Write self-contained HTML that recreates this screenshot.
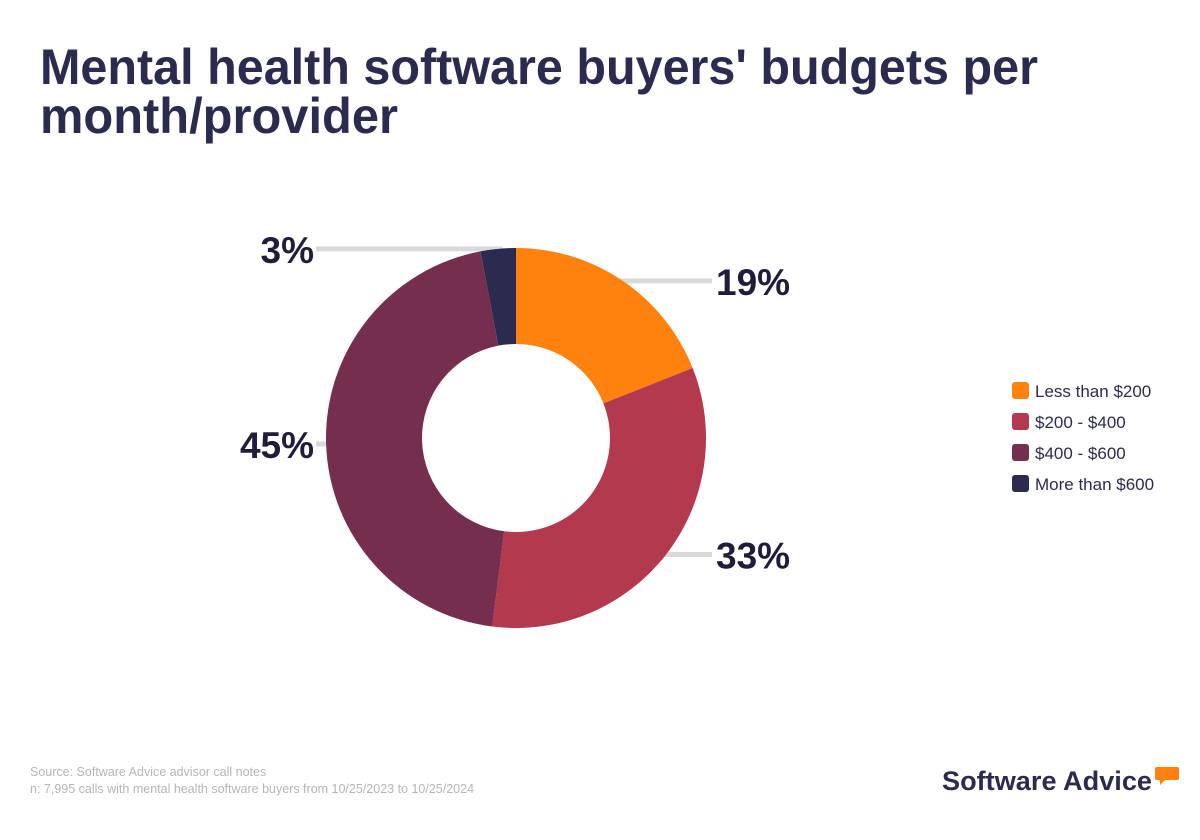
<!DOCTYPE html>
<html><head><meta charset="utf-8"><style>
html,body{margin:0;padding:0;background:#fff;}
svg{display:block;font-family:"Liberation Sans",sans-serif;}
</style></head><body>
<svg id="chart" width="1200" height="840" viewBox="0 0 1200 840">
<text x="40" y="84" font-size="50" font-weight="bold" fill="#2B2A4F" textLength="998" lengthAdjust="spacingAndGlyphs">Mental health software buyers' budgets per</text>
<text x="40" y="133" font-size="50" font-weight="bold" fill="#2B2A4F" textLength="358" lengthAdjust="spacingAndGlyphs">month/provider</text>
<g id="leaders"></g>
<g id="slices"></g>
<g id="labels"></g>
<g id="legend"></g>
<text x="30" y="776" font-size="12.5" fill="#b5b5b5">Source: Software Advice advisor call notes</text>
<text x="30" y="793" font-size="12.5" fill="#b5b5b5">n: 7,995 calls with mental health software buyers from 10/25/2023 to 10/25/2024</text>
<text x="942" y="790" font-size="27" font-weight="bold" fill="#2B2A4F" textLength="210" lengthAdjust="spacingAndGlyphs">Software Advice</text>
<path d="M1157 767 h20 q2 0 2 2 v9 q0 2 -2 2 h-12 l-5 5 v-5 h-3 q-2 0 -2 -2 v-9 q0 -2 2 -2z" fill="#FF820E"/>
</svg>
<script>
const categories = ["Less than $200", "$200 - $400", "$400 - $600", "More than $600"];
const values = [19, 33, 45, 3];
const valueLabels = ["19%", "33%", "45%", "3%"];
const colors = ["#FF820E", "#B3394F", "#762E4E", "#2B2A4F"];
const NS = "http://www.w3.org/2000/svg";
const cx = 516, cy = 438, R = 190, r = 94;
const total = values.reduce((a, b) => a + b, 0);
function pt(rad, a) { return [cx + rad * Math.sin(a), cy - rad * Math.cos(a)]; }
const sl = document.getElementById('slices'), lb = document.getElementById('labels'), ld = document.getElementById('leaders'), lg = document.getElementById('legend');
let acc = 0;
values.forEach((v, i) => {
  const a0 = acc / total * 2 * Math.PI; acc += v;
  const a1 = acc / total * 2 * Math.PI;
  const large = (a1 - a0) > Math.PI ? 1 : 0;
  const [x0, y0] = pt(R, a0), [x1, y1] = pt(R, a1), [x2, y2] = pt(r, a1), [x3, y3] = pt(r, a0);
  const p = document.createElementNS(NS, 'path');
  p.setAttribute('d', `M${x0} ${y0} A${R} ${R} 0 ${large} 1 ${x1} ${y1} L${x2} ${y2} A${r} ${r} 0 ${large} 0 ${x3} ${y3}Z`);
  p.setAttribute('fill', colors[i]);
  
  
  sl.appendChild(p);
  const am = (a0 + a1) / 2;
  const right = Math.sin(am) >= 0;
  const ly = cy - R * Math.cos(am);
  const ex = cx + (R + r) / 2 * Math.sin(am);
  const lx = right ? 712 : 316;
  const ln = document.createElementNS(NS, 'path');
  ln.setAttribute('d', `M${ex} ${ly} L${lx} ${ly}`);
  ln.setAttribute('stroke', '#d9d9d9');
  ln.setAttribute('stroke-width', '5');
  
  
  ld.appendChild(ln);
  const t = document.createElementNS(NS, 'text');
  t.setAttribute('x', right ? 716 : 314);
  t.setAttribute('y', ly + 14);
  t.setAttribute('text-anchor', right ? 'start' : 'end');
  t.setAttribute('font-size', '37');
  t.setAttribute('font-weight', 'bold');
  t.setAttribute('fill', '#1f1d3a');
  t.textContent = valueLabels[i];
  
  
  lb.appendChild(t);
  const g = document.createElementNS(NS, 'g');
  
  
  const sq = document.createElementNS(NS, 'rect');
  sq.setAttribute('x', 1012); sq.setAttribute('y', 382 + i * 31);
  sq.setAttribute('width', 17); sq.setAttribute('height', 17); sq.setAttribute('rx', 3);
  sq.setAttribute('fill', colors[i]);
  
  
  const tx = document.createElementNS(NS, 'text');
  tx.setAttribute('x', 1035); tx.setAttribute('y', 397 + i * 31);
  tx.setAttribute('font-size', '17'); tx.setAttribute('fill', '#2B2A4F');
  tx.textContent = categories[i];
  
  
  g.appendChild(sq); g.appendChild(tx); lg.appendChild(g);
});
</script>
</body></html>
